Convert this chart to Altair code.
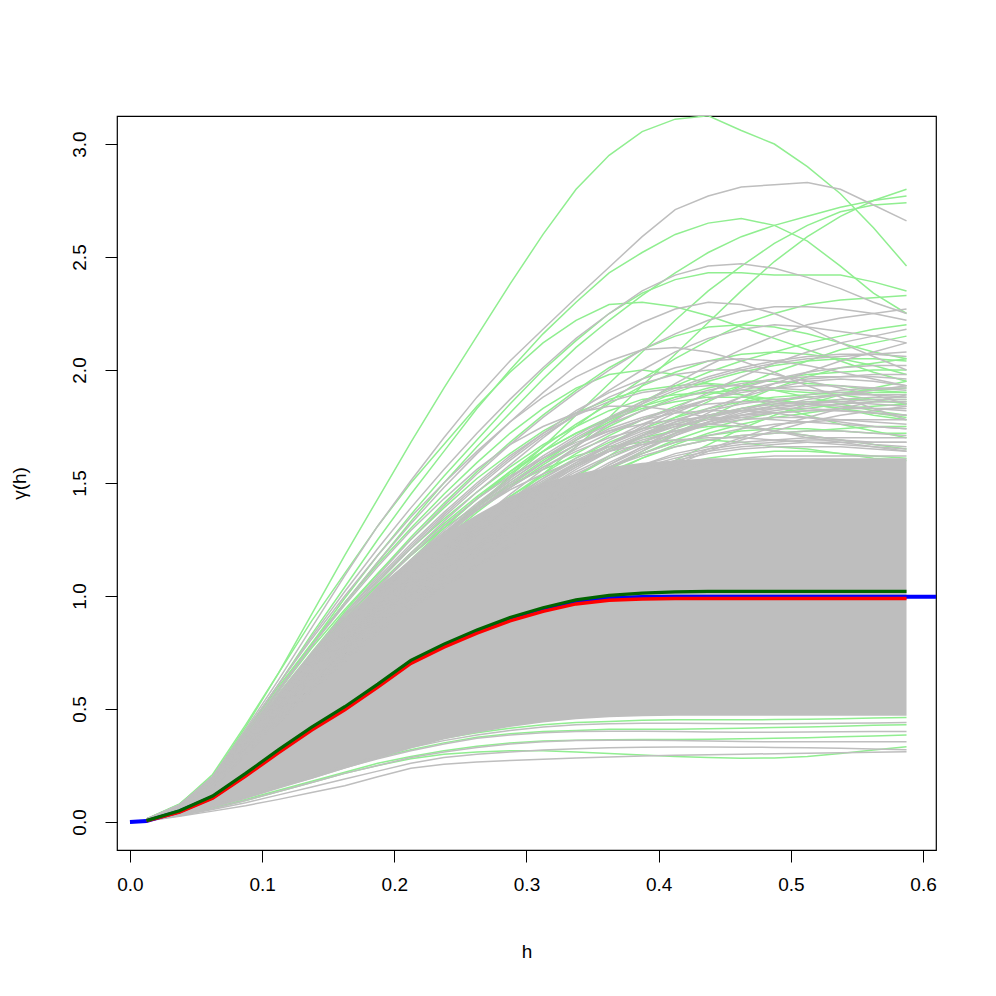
import altair as alt
import pandas as pd

# lag grid (bin centres) used by all empirical curves
H = [0.0125, 0.0375, 0.0625, 0.0875, 0.1125, 0.1375, 0.1625, 0.1875, 0.2125, 0.2375,
     0.2625, 0.2875, 0.3125, 0.3375, 0.3625, 0.3875, 0.4125, 0.4375, 0.4625, 0.4875,
     0.5125, 0.5375, 0.5625, 0.5875]

# theoretical curve (blue) on its own lags
BLUE_H = [0.0] + H + [0.62]
blue = [0.0, 0.004, 0.047, 0.11, 0.209, 0.313, 0.413, 0.503, 0.603, 0.708, 0.781, 0.844, 0.898,
        0.94, 0.973, 0.99, 0.995, 0.997, 0.997, 0.997, 0.997, 0.997, 0.997, 0.997, 0.997, 0.997]
red = [0.005, 0.044, 0.105, 0.203, 0.307, 0.407, 0.497, 0.597, 0.702, 0.774, 0.836, 0.89, 0.932,
       0.965, 0.981, 0.987, 0.989, 0.989, 0.989, 0.989, 0.989, 0.989, 0.989, 0.989]
dkgreen = [0.006, 0.05, 0.115, 0.215, 0.32, 0.42, 0.51, 0.61, 0.715, 0.787, 0.85, 0.905, 0.948,
           0.983, 1.003, 1.013, 1.018, 1.02, 1.02, 1.02, 1.02, 1.02, 1.02, 1.02]

# densely overplotted core of the grey simulation band
core_lo = [0.004, 0.03, 0.065, 0.105, 0.15, 0.19, 0.235, 0.28, 0.325, 0.365, 0.395, 0.42, 0.44,
           0.455, 0.463, 0.468, 0.47, 0.47, 0.47, 0.47, 0.47, 0.47, 0.47, 0.47]
core_hi = [0.012, 0.075, 0.19, 0.37, 0.55, 0.74, 0.90, 1.04, 1.16, 1.27, 1.36, 1.44, 1.50,
           1.54, 1.57, 1.59, 1.60, 1.61, 1.61, 1.61, 1.61, 1.61, 1.61, 1.61]

green_upper = [
    [0.013,0.08,0.20,0.42,0.66,0.92,1.18,1.43,1.68,1.92,2.15,2.38,2.60,2.80,2.95,3.055,3.11,3.125,3.06,3.00,2.90,2.78,2.63,2.46],
    [0.012,0.075,0.20,0.40,0.61,0.83,1.04,1.25,1.45,1.64,1.83,2.00,2.16,2.30,2.43,2.52,2.60,2.65,2.67,2.64,2.57,2.46,2.34,2.25],
    [0.012,0.073,0.19,0.39,0.59,0.79,0.99,1.18,1.36,1.53,1.69,1.85,2.00,2.13,2.25,2.34,2.40,2.43,2.43,2.42,2.42,2.42,2.39,2.35],
    [0.01,0.062,0.16,0.31,0.47,0.63,0.78,0.92,1.05,1.18,1.30,1.42,1.54,1.66,1.79,1.93,2.07,2.21,2.35,2.48,2.59,2.68,2.75,2.80],
    [0.012,0.072,0.19,0.38,0.58,0.78,0.97,1.15,1.33,1.50,1.66,1.81,1.96,2.10,2.22,2.33,2.43,2.52,2.59,2.64,2.68,2.72,2.75,2.77],
    [0.011,0.066,0.17,0.33,0.50,0.67,0.83,0.98,1.12,1.26,1.40,1.53,1.66,1.80,1.94,2.08,2.22,2.35,2.46,2.56,2.64,2.70,2.73,2.74],
    [0.013,0.078,0.21,0.43,0.66,0.89,1.10,1.31,1.50,1.67,1.84,1.99,2.12,2.22,2.29,2.30,2.28,2.24,2.19,2.14,2.09,2.04,1.99,1.95],
    [0.011,0.067,0.17,0.33,0.50,0.67,0.83,0.98,1.13,1.27,1.40,1.52,1.64,1.75,1.86,1.96,2.05,2.13,2.20,2.25,2.29,2.31,2.32,2.33],
    [0.012,0.07,0.18,0.37,0.56,0.75,0.93,1.10,1.26,1.41,1.55,1.68,1.80,1.91,2.01,2.09,2.15,2.19,2.20,2.19,2.16,2.12,2.08,2.05],
    [0.011,0.066,0.17,0.34,0.51,0.68,0.84,0.99,1.13,1.26,1.38,1.49,1.59,1.69,1.78,1.86,1.93,1.99,2.04,2.08,2.12,2.15,2.18,2.20],
    [0.011,0.067,0.17,0.34,0.52,0.69,0.86,1.01,1.16,1.30,1.43,1.55,1.66,1.76,1.85,1.93,1.99,2.04,2.07,2.08,2.07,2.05,2.02,1.98],
    [0.01,0.06,0.155,0.30,0.45,0.60,0.74,0.87,0.99,1.11,1.22,1.33,1.43,1.53,1.62,1.71,1.79,1.86,1.93,1.99,2.04,2.09,2.12,2.15],
    [0.011,0.066,0.17,0.33,0.50,0.67,0.83,0.98,1.12,1.25,1.37,1.48,1.58,1.67,1.75,1.82,1.88,1.92,1.95,1.95,1.94,1.93,1.91,1.90],
    [0.01,0.06,0.155,0.30,0.45,0.60,0.74,0.87,0.99,1.10,1.20,1.30,1.39,1.48,1.56,1.64,1.72,1.79,1.86,1.92,1.97,2.01,2.03,2.05],
    [0.012,0.072,0.185,0.37,0.56,0.74,0.91,1.07,1.21,1.34,1.46,1.57,1.67,1.75,1.82,1.87,1.89,1.90,1.89,1.87,1.85,1.83,1.80,1.78],
    [0.01,0.06,0.155,0.30,0.45,0.59,0.72,0.85,0.97,1.08,1.18,1.28,1.37,1.46,1.54,1.61,1.67,1.72,1.76,1.79,1.81,1.83,1.84,1.85],
    [0.01,0.063,0.16,0.31,0.47,0.62,0.76,0.89,1.01,1.12,1.23,1.33,1.42,1.50,1.57,1.63,1.68,1.71,1.73,1.74,1.74,1.73,1.72,1.72],
    [0.011,0.066,0.17,0.33,0.50,0.66,0.81,0.95,1.08,1.20,1.31,1.41,1.50,1.58,1.65,1.70,1.73,1.75,1.75,1.73,1.71,1.69,1.67,1.65],
    [0.012,0.072,0.19,0.37,0.56,0.74,0.90,1.05,1.18,1.30,1.40,1.49,1.56,1.62,1.66,1.68,1.69,1.69,1.68,1.66,1.65,1.63,1.61,1.60],
    [0.01,0.058,0.15,0.29,0.43,0.57,0.70,0.82,0.93,1.03,1.12,1.21,1.29,1.37,1.45,1.53,1.60,1.67,1.74,1.80,1.85,1.89,1.92,1.95],
    [0.012,0.075,0.20,0.40,0.60,0.79,0.97,1.14,1.30,1.45,1.59,1.72,1.83,1.92,1.98,2.00,1.98,1.94,1.89,1.84,1.80,1.76,1.73,1.70],
    [0.01,0.06,0.155,0.30,0.45,0.60,0.74,0.87,0.99,1.10,1.21,1.31,1.40,1.48,1.55,1.61,1.66,1.69,1.71,1.72,1.73,1.74,1.75,1.75],
    [0.011,0.066,0.17,0.33,0.50,0.66,0.81,0.95,1.08,1.20,1.31,1.41,1.50,1.58,1.65,1.71,1.76,1.80,1.83,1.85,1.86,1.87,1.87,1.87],
    [0.01,0.06,0.155,0.30,0.45,0.60,0.73,0.86,0.98,1.09,1.19,1.28,1.36,1.43,1.49,1.54,1.58,1.61,1.63,1.64,1.64,1.63,1.62,1.61],
    [0.012,0.072,0.187,0.37,0.55,0.73,0.89,1.04,1.18,1.31,1.43,1.54,1.64,1.72,1.79,1.84,1.88,1.90,1.91,1.91,1.90,1.89,1.87,1.85],
    [0.01,0.061,0.158,0.305,0.46,0.61,0.75,0.88,1.00,1.11,1.21,1.31,1.40,1.48,1.56,1.63,1.69,1.74,1.78,1.81,1.83,1.85,1.86,1.86],
    [0.011,0.069,0.178,0.35,0.52,0.69,0.84,0.98,1.11,1.23,1.34,1.44,1.53,1.61,1.68,1.74,1.79,1.83,1.86,1.88,1.89,1.90,1.91,1.92],
    [0.012,0.074,0.195,0.385,0.58,0.77,0.94,1.10,1.25,1.39,1.52,1.63,1.73,1.81,1.87,1.91,1.93,1.94,1.93,1.91,1.88,1.85,1.82,1.80],
    [0.011,0.068,0.175,0.345,0.52,0.69,0.85,1.00,1.14,1.27,1.39,1.50,1.60,1.69,1.77,1.84,1.90,1.95,1.99,2.02,2.04,2.05,2.05,2.04],
    [0.01,0.062,0.16,0.31,0.47,0.62,0.76,0.89,1.01,1.13,1.24,1.34,1.44,1.53,1.61,1.68,1.74,1.79,1.83,1.86,1.88,1.89,1.90,1.90],
    [0.012,0.073,0.19,0.375,0.56,0.74,0.90,1.05,1.19,1.32,1.44,1.55,1.64,1.72,1.78,1.83,1.86,1.88,1.88,1.87,1.85,1.83,1.81,1.79],
    [0.011,0.066,0.17,0.33,0.50,0.66,0.81,0.95,1.08,1.21,1.33,1.44,1.54,1.63,1.71,1.78,1.84,1.89,1.93,1.96,1.98,1.99,2.00,2.00],
]

grey_upper = [
    [0.012,0.075,0.20,0.41,0.63,0.86,1.09,1.31,1.51,1.70,1.88,2.04,2.18,2.32,2.455,2.59,2.71,2.77,2.81,2.82,2.83,2.80,2.73,2.66],
    [0.012,0.074,0.20,0.40,0.61,0.82,1.02,1.21,1.39,1.56,1.72,1.87,2.01,2.14,2.25,2.35,2.42,2.46,2.47,2.45,2.41,2.36,2.30,2.25],
    [0.012,0.072,0.19,0.38,0.58,0.78,0.97,1.15,1.32,1.48,1.63,1.77,1.90,2.02,2.13,2.21,2.27,2.30,2.29,2.25,2.19,2.12,2.06,2.00],
    [0.011,0.07,0.18,0.36,0.55,0.74,0.92,1.09,1.25,1.40,1.54,1.67,1.79,1.90,2.00,2.09,2.16,2.22,2.26,2.28,2.28,2.27,2.25,2.22],
    [0.01,0.063,0.165,0.32,0.48,0.64,0.79,0.94,1.08,1.21,1.33,1.45,1.56,1.66,1.76,1.85,1.94,2.02,2.09,2.15,2.20,2.23,2.25,2.27],
    [0.011,0.068,0.175,0.35,0.53,0.71,0.88,1.04,1.19,1.33,1.46,1.58,1.70,1.81,1.91,2.00,2.08,2.14,2.18,2.20,2.19,2.17,2.15,2.12],
    [0.012,0.075,0.20,0.40,0.61,0.81,1.00,1.18,1.35,1.50,1.64,1.77,1.88,1.97,2.04,2.09,2.10,2.08,2.04,1.99,1.93,1.88,1.83,1.78],
    [0.01,0.062,0.16,0.31,0.47,0.63,0.78,0.92,1.05,1.17,1.28,1.39,1.49,1.58,1.67,1.75,1.83,1.90,1.97,2.03,2.08,2.12,2.15,2.18],
    [0.011,0.068,0.175,0.35,0.53,0.70,0.86,1.01,1.15,1.28,1.40,1.51,1.61,1.70,1.78,1.85,1.91,1.96,2.00,2.03,2.05,2.06,2.07,2.08],
    [0.011,0.07,0.18,0.36,0.55,0.73,0.90,1.06,1.21,1.35,1.48,1.60,1.71,1.80,1.88,1.94,1.98,2.00,2.00,1.98,1.95,1.92,1.89,1.85],
    [0.01,0.064,0.165,0.32,0.48,0.64,0.79,0.93,1.06,1.18,1.29,1.40,1.50,1.59,1.67,1.74,1.81,1.87,1.92,1.96,1.99,2.01,2.02,2.02],
    [0.01,0.063,0.16,0.31,0.47,0.62,0.76,0.90,1.03,1.15,1.26,1.37,1.47,1.56,1.64,1.71,1.77,1.83,1.88,1.92,1.95,1.96,1.95,1.93],
    [0.01,0.062,0.16,0.31,0.46,0.61,0.75,0.88,1.00,1.11,1.22,1.32,1.41,1.50,1.58,1.65,1.71,1.76,1.80,1.83,1.85,1.87,1.88,1.88],
    [0.011,0.068,0.175,0.35,0.52,0.69,0.85,1.00,1.14,1.27,1.39,1.50,1.59,1.67,1.73,1.78,1.81,1.82,1.82,1.81,1.79,1.77,1.75,1.74],
    [0.01,0.06,0.155,0.30,0.45,0.59,0.72,0.85,0.97,1.08,1.18,1.28,1.37,1.45,1.52,1.58,1.63,1.66,1.68,1.69,1.70,1.70,1.70,1.70],
    [0.01,0.062,0.16,0.31,0.46,0.61,0.75,0.88,1.00,1.12,1.23,1.33,1.42,1.50,1.57,1.63,1.68,1.71,1.74,1.76,1.77,1.78,1.78,1.78],
    [0.01,0.06,0.155,0.30,0.44,0.58,0.71,0.84,0.96,1.07,1.17,1.26,1.34,1.41,1.47,1.52,1.56,1.59,1.61,1.62,1.62,1.62,1.62,1.62],
    [0.011,0.07,0.18,0.35,0.53,0.70,0.86,1.01,1.14,1.27,1.38,1.48,1.57,1.64,1.70,1.74,1.76,1.76,1.75,1.73,1.71,1.69,1.67,1.66],
    [0.012,0.074,0.195,0.39,0.59,0.78,0.96,1.13,1.29,1.43,1.56,1.67,1.75,1.81,1.84,1.84,1.82,1.79,1.76,1.73,1.70,1.68,1.66,1.64],
    [0.011,0.066,0.17,0.33,0.50,0.66,0.81,0.95,1.08,1.20,1.31,1.42,1.52,1.61,1.69,1.76,1.82,1.87,1.91,1.94,1.96,1.97,1.98,1.98],
    [0.01,0.062,0.16,0.31,0.47,0.62,0.76,0.90,1.03,1.15,1.27,1.38,1.48,1.57,1.65,1.71,1.75,1.78,1.80,1.81,1.82,1.83,1.83,1.83],
    [0.01,0.064,0.165,0.32,0.48,0.63,0.77,0.90,1.02,1.13,1.23,1.32,1.40,1.47,1.53,1.58,1.62,1.65,1.67,1.68,1.69,1.69,1.68,1.68],
    [0.01,0.06,0.155,0.30,0.45,0.59,0.73,0.86,0.98,1.09,1.20,1.30,1.40,1.49,1.58,1.66,1.74,1.81,1.88,1.94,1.99,2.04,2.08,2.12],
    [0.01,0.061,0.158,0.305,0.46,0.61,0.75,0.88,1.00,1.11,1.21,1.30,1.38,1.45,1.51,1.56,1.60,1.63,1.65,1.66,1.66,1.66,1.65,1.64],
    [0.011,0.067,0.172,0.34,0.51,0.67,0.82,0.96,1.09,1.21,1.32,1.42,1.51,1.59,1.66,1.72,1.77,1.80,1.82,1.83,1.83,1.82,1.81,1.80],
    [0.01,0.059,0.152,0.295,0.44,0.58,0.71,0.83,0.94,1.04,1.13,1.22,1.30,1.38,1.45,1.52,1.58,1.64,1.69,1.73,1.77,1.80,1.82,1.84],
    [0.012,0.071,0.185,0.365,0.55,0.72,0.88,1.03,1.16,1.28,1.38,1.47,1.54,1.60,1.64,1.67,1.69,1.70,1.70,1.69,1.68,1.67,1.66,1.65],
    [0.01,0.062,0.16,0.31,0.46,0.61,0.75,0.88,1.00,1.11,1.21,1.31,1.40,1.49,1.57,1.64,1.71,1.77,1.82,1.86,1.89,1.91,1.92,1.92],
    [0.011,0.065,0.168,0.325,0.49,0.65,0.80,0.94,1.06,1.17,1.27,1.36,1.44,1.51,1.57,1.62,1.66,1.69,1.71,1.72,1.73,1.73,1.72,1.71],
    [0.012,0.073,0.19,0.375,0.56,0.74,0.91,1.07,1.22,1.36,1.49,1.61,1.72,1.82,1.90,1.96,2.01,2.04,2.05,2.04,2.02,1.99,1.96,1.93],
    [0.01,0.06,0.155,0.30,0.45,0.59,0.72,0.84,0.95,1.05,1.14,1.23,1.31,1.39,1.46,1.53,1.59,1.65,1.70,1.75,1.79,1.83,1.86,1.89],
    [0.011,0.066,0.17,0.335,0.50,0.66,0.81,0.95,1.08,1.20,1.31,1.41,1.50,1.58,1.64,1.69,1.73,1.76,1.78,1.79,1.79,1.78,1.77,1.76],
    [0.01,0.063,0.162,0.315,0.47,0.62,0.76,0.89,1.01,1.12,1.22,1.31,1.39,1.46,1.52,1.57,1.61,1.64,1.66,1.67,1.68,1.68,1.68,1.68],
    [0.012,0.07,0.182,0.36,0.54,0.71,0.87,1.02,1.15,1.27,1.38,1.48,1.57,1.65,1.72,1.78,1.83,1.87,1.90,1.92,1.93,1.93,1.92,1.91],
    [0.011,0.068,0.176,0.345,0.52,0.68,0.83,0.97,1.10,1.22,1.33,1.43,1.52,1.60,1.67,1.73,1.78,1.82,1.85,1.87,1.88,1.89,1.89,1.89],
    [0.011,0.067,0.173,0.34,0.51,0.68,0.84,0.99,1.13,1.26,1.38,1.49,1.59,1.67,1.74,1.79,1.83,1.85,1.86,1.86,1.85,1.84,1.83,1.82],
    [0.01,0.063,0.163,0.318,0.48,0.63,0.78,0.92,1.05,1.17,1.28,1.38,1.47,1.55,1.62,1.68,1.73,1.77,1.80,1.82,1.84,1.85,1.86,1.86],
    [0.012,0.072,0.188,0.37,0.56,0.73,0.89,1.04,1.18,1.31,1.43,1.53,1.61,1.68,1.73,1.76,1.78,1.79,1.79,1.78,1.77,1.76,1.75,1.74],
    [0.011,0.065,0.168,0.33,0.49,0.65,0.80,0.94,1.07,1.19,1.30,1.40,1.49,1.57,1.64,1.70,1.75,1.79,1.82,1.84,1.85,1.86,1.87,1.87],
    [0.012,0.074,0.193,0.38,0.57,0.75,0.92,1.08,1.23,1.37,1.50,1.62,1.72,1.80,1.86,1.90,1.92,1.93,1.93,1.92,1.91,1.90,1.89,1.88],
    [0.01,0.061,0.158,0.31,0.46,0.61,0.75,0.88,1.00,1.12,1.23,1.33,1.42,1.51,1.59,1.66,1.72,1.77,1.81,1.84,1.87,1.89,1.91,1.93],
    [0.011,0.069,0.178,0.35,0.53,0.70,0.86,1.01,1.15,1.28,1.40,1.51,1.61,1.69,1.76,1.82,1.87,1.91,1.94,1.96,1.97,1.97,1.97,1.96],
    [0.011,0.066,0.171,0.335,0.50,0.66,0.81,0.95,1.08,1.20,1.31,1.41,1.50,1.58,1.65,1.71,1.76,1.80,1.83,1.85,1.86,1.86,1.85,1.84],
    [0.012,0.071,0.184,0.36,0.54,0.71,0.87,1.02,1.16,1.29,1.41,1.52,1.62,1.71,1.79,1.86,1.92,1.97,2.01,2.04,2.06,2.07,2.07,2.06],
    [0.01,0.062,0.161,0.315,0.47,0.62,0.77,0.91,1.04,1.16,1.27,1.37,1.46,1.54,1.61,1.67,1.72,1.76,1.79,1.81,1.82,1.82,1.81,1.80],
]

grey_lower = [
    [0.004,0.025,0.048,0.072,0.10,0.13,0.16,0.20,0.238,0.255,0.265,0.272,0.278,0.283,0.288,0.292,0.295,0.298,0.30,0.302,0.304,0.306,0.309,0.311],
    [0.005,0.028,0.055,0.085,0.12,0.155,0.19,0.225,0.26,0.285,0.30,0.31,0.318,0.324,0.328,0.331,0.332,0.332,0.331,0.33,0.328,0.326,0.323,0.32],
    [0.005,0.03,0.06,0.095,0.135,0.175,0.215,0.25,0.285,0.31,0.33,0.345,0.355,0.36,0.362,0.362,0.36,0.358,0.356,0.355,0.355,0.355,0.355,0.355],
    [0.005,0.032,0.066,0.105,0.15,0.195,0.24,0.28,0.315,0.345,0.37,0.385,0.395,0.40,0.402,0.402,0.40,0.398,0.397,0.397,0.398,0.399,0.40,0.40],
    [0.006,0.035,0.072,0.115,0.16,0.205,0.25,0.29,0.33,0.36,0.385,0.405,0.42,0.43,0.435,0.437,0.437,0.436,0.435,0.435,0.436,0.437,0.438,0.44],
]

green_lower = [
    [0.005,0.03,0.06,0.095,0.135,0.175,0.215,0.25,0.28,0.30,0.31,0.315,0.315,0.31,0.303,0.296,0.29,0.285,0.282,0.283,0.29,0.303,0.318,0.333],
    [0.005,0.03,0.062,0.10,0.14,0.18,0.22,0.26,0.29,0.315,0.335,0.35,0.358,0.362,0.364,0.365,0.365,0.366,0.368,0.37,0.373,0.377,0.381,0.385],
    [0.006,0.034,0.07,0.11,0.155,0.20,0.245,0.285,0.32,0.35,0.375,0.39,0.40,0.405,0.41,0.41,0.41,0.412,0.415,0.418,0.42,0.424,0.428,0.43],
    [0.006,0.036,0.075,0.12,0.165,0.21,0.255,0.30,0.34,0.37,0.395,0.415,0.43,0.44,0.445,0.45,0.452,0.452,0.452,0.453,0.455,0.457,0.46,0.462],
]

X_TICKS = [0.0, 0.1, 0.2, 0.3, 0.4, 0.5, 0.6]
Y_TICKS = [0.0, 0.5, 1.0, 1.5, 2.0, 2.5, 3.0]

for arr in [red, dkgreen, core_lo, core_hi] + green_upper + grey_upper + grey_lower + green_lower:
    assert len(arr) == len(H), arr
assert len(blue) == len(BLUE_H)


def to_long(lines, prefix):
    rows = []
    for i, vals in enumerate(lines):
        for h, v in zip(H, vals):
            rows.append({"h": h, "v": v, "id": f"{prefix}{i:02d}"})
    return pd.DataFrame(rows)


green_df = pd.concat([to_long(green_upper, "gu"), to_long(green_lower, "gl")])
grey_df = pd.concat([to_long(grey_upper, "yu"), to_long(grey_lower, "yl")])
core_df = pd.DataFrame({"h": H, "v": core_lo, "v2": core_hi})
blue_df = pd.DataFrame({"h": BLUE_H, "v": blue})
red_df = pd.DataFrame({"h": H, "v": red})
dk_df = pd.DataFrame({"h": H, "v": dkgreen})

xs = alt.Scale(domain=[-0.0098, 0.6098], nice=False, zero=False)
ys = alt.Scale(domain=[-0.124, 3.124], nice=False, zero=False)

X = alt.X("h:Q", scale=xs, title="h",
          axis=alt.Axis(values=X_TICKS, format=".1f", labelPadding=13, labelFlush=False,
                        labelOverlap=False, titleY=101, titleBaseline="middle", grid=False))
Y = alt.Y("v:Q", scale=ys, title="γ(h)",
          axis=alt.Axis(values=Y_TICKS, format=".1f", labelAngle=270, labelAlign="center",
                        labelBaseline="bottom", labelPadding=16, labelOverlap=False,
                        titleAngle=270, titleX=-98, titleY=367, titleAlign="center",
                        titleBaseline="middle", grid=False))

green_layer = alt.Chart(green_df).mark_line(color="#90EE90", strokeWidth=1.5, clip=True).encode(
    x=X, y=Y, detail="id:N")
core_layer = alt.Chart(core_df).mark_area(color="#BEBEBE", opacity=1, clip=True).encode(
    x=X, y=Y, y2="v2:Q")
grey_layer = alt.Chart(grey_df).mark_line(color="#BEBEBE", strokeWidth=1.5, clip=True).encode(
    x=X, y=Y, detail="id:N")
blue_layer = alt.Chart(blue_df).mark_line(color="#0000FF", strokeWidth=4, clip=True).encode(x=X, y=Y)
red_layer = alt.Chart(red_df).mark_line(color="#FF0000", strokeWidth=3.5, clip=True).encode(x=X, y=Y)
dk_layer = alt.Chart(dk_df).mark_line(color="#006400", strokeWidth=3.2, clip=True).encode(x=X, y=Y)

chart = alt.layer(green_layer, core_layer, grey_layer, blue_layer, red_layer, dk_layer).properties(
    width=819, height=734,
    padding={"left": 109, "top": 108, "right": 40, "bottom": 120},
    autosize=alt.AutoSizeParams(type="none"),
    background="white",
).configure_view(stroke="black", strokeWidth=1.2).configure_axis(
    grid=False, domain=False, ticks=True, tickColor="black", tickSize=12, tickWidth=1,
    labelFont="Liberation Sans", labelFontSize=19, labelColor="black",
    titleFont="Liberation Sans", titleFontSize=19, titleFontWeight="normal", titleColor="black",
)

chart.save("out.html", embed_options={"renderer": "svg", "actions": False})
